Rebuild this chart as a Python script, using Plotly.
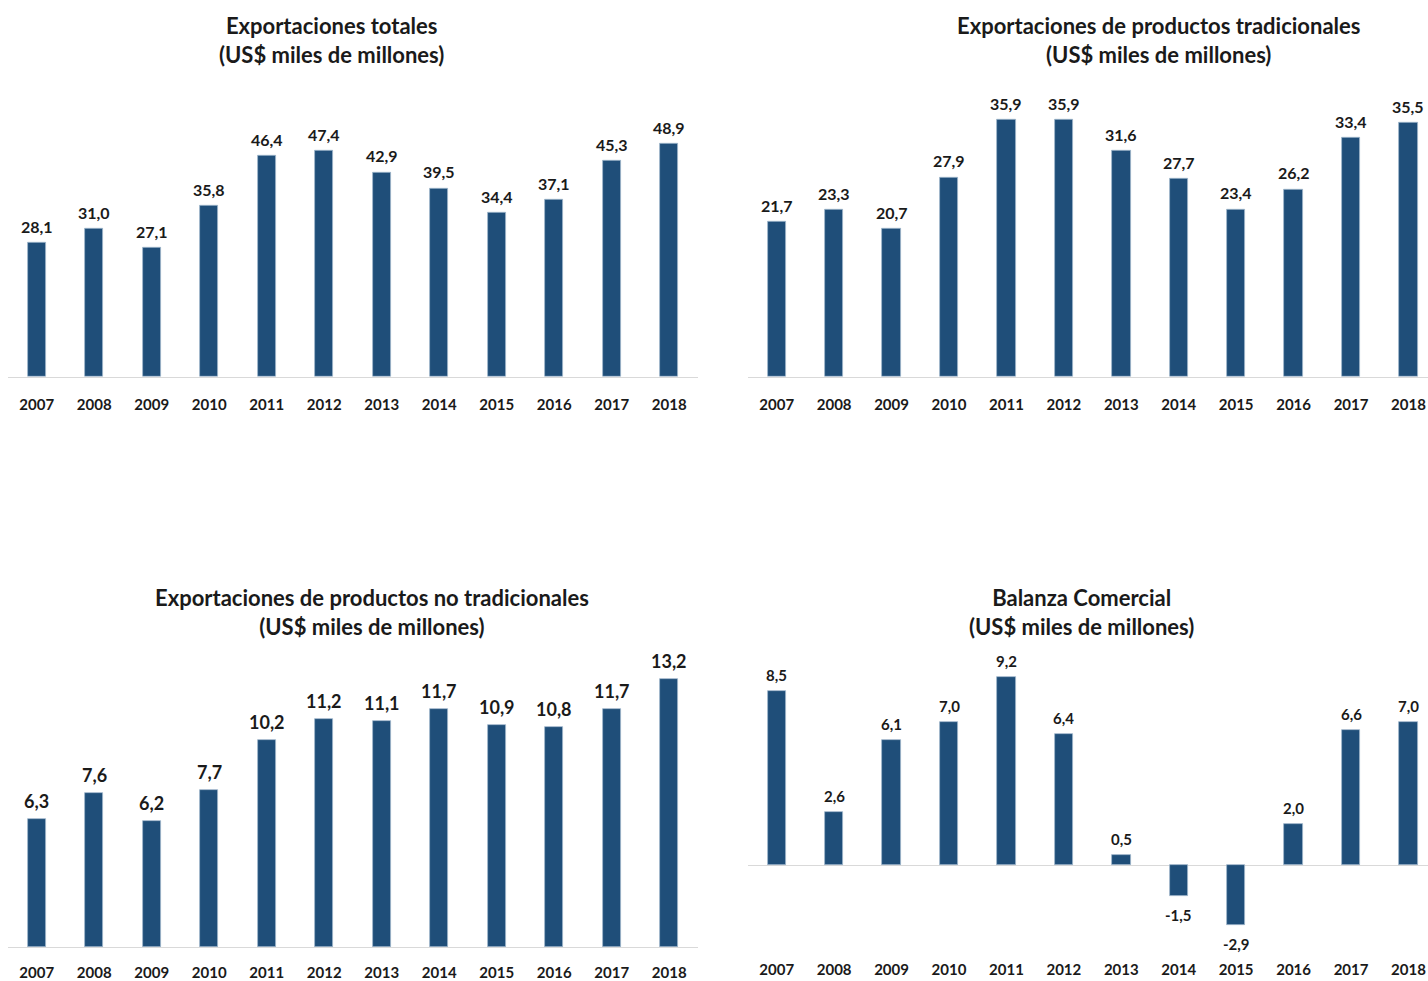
import plotly.graph_objects as go

years = ["2007", "2008", "2009", "2010", "2011", "2012", "2013", "2014", "2015", "2016", "2017", "2018"]
totales = [28.1, 31.0, 27.1, 35.8, 46.4, 47.4, 42.9, 39.5, 34.4, 37.1, 45.3, 48.9]
tradicionales = [21.7, 23.3, 20.7, 27.9, 35.9, 35.9, 31.6, 27.7, 23.4, 26.2, 33.4, 35.5]
no_tradicionales = [6.3, 7.6, 6.2, 7.7, 10.2, 11.2, 11.1, 11.7, 10.9, 10.8, 11.7, 13.2]
balanza = [8.5, 2.6, 6.1, 7.0, 9.2, 6.4, 0.5, -1.5, -2.9, 2.0, 6.6, 7.0]

titles = [
    "Exportaciones totales<br>(US$ miles de millones)",
    "Exportaciones de productos tradicionales<br>(US$ miles de millones)",
    "Exportaciones de productos no tradicionales<br>(US$ miles de millones)",
    "Balanza Comercial<br>(US$ miles de millones)",
]

FONT = "Lato"
BAR = "#1F4E79"
W, H = 1428, 981

fig = go.Figure()

panels = [
    dict(vals=totales, xa="x", ya="y", lab=16),
    dict(vals=tradicionales, xa="x2", ya="y2", lab=16),
    dict(vals=no_tradicionales, xa="x3", ya="y3", lab=18),
    dict(vals=balanza, xa="x4", ya="y4", lab=15),
]

annotations = []
for p in panels:
    fig.add_trace(go.Bar(
        x=years, y=p["vals"], xaxis=p["xa"], yaxis=p["ya"],
        width=0.32, marker=dict(color=BAR, line=dict(color="#9fb6cc", width=0.8)),
        showlegend=False, hoverinfo="x+y",
    ))
    for i, v in enumerate(p["vals"]):
        annotations.append(dict(
            x=i, y=v, xref=p["xa"], yref=p["ya"],
            text=f"{v:.1f}".replace(".", ","),
            showarrow=False,
            yanchor="bottom" if v >= 0 else "top",
            yshift=5 if v >= 0 else -8,
            font=dict(family=FONT, size=p["lab"], color="#1a1a1a", weight="bold"),
        ))

title_pos = [(331, 40), (1158, 40), (372, 614), (1081, 614)]
for t, (px, py) in zip(titles, title_pos):
    annotations.append(dict(
        x=px / W, y=(H - py) / H, xref="paper", yref="paper",
        text=t, showarrow=False, xanchor="center", yanchor="middle",
        font=dict(family=FONT, size=22, color="#1a1a1a", weight="bold"),
    ))

xl = [8 / W, 698 / W]
xr = [748 / W, 1.0]
ytop = [(H - 378) / H, (H - 91) / H]
ybot = [(H - 950) / H, (H - 644) / H]

tickfont = dict(family=FONT, size=15, color="#1a1a1a", weight="bold")

def xaxis(dom, rng, anchor, line=True, standoff=14):
    return dict(domain=dom, range=rng, anchor=anchor, type="category",
                showline=line, linecolor="#d9d9d9", linewidth=1,
                showgrid=False, ticks="", tickfont=tickfont, ticklabelstandoff=standoff,
                zeroline=False)

def yaxis(dom, rng, anchor, zero=False):
    return dict(domain=dom, range=rng, anchor=anchor, visible=True,
                showticklabels=False, showgrid=False, showline=False, ticks="",
                zeroline=zero, zerolinecolor="#d9d9d9", zerolinewidth=1)

fig.update_layout(
    width=W, height=H,
    margin=dict(l=0, r=0, t=0, b=0),
    paper_bgcolor="white", plot_bgcolor="white",
    font=dict(family=FONT),
    bargap=0,
    xaxis=xaxis(xl, [-0.5, 11.5], "y"),
    yaxis=yaxis(ytop, [0, 60], "x"),
    xaxis2=xaxis(xr, [-0.5, 11.34], "y2"),
    yaxis2=yaxis(ytop, [0, 40], "x2"),
    xaxis3=xaxis(xl, [-0.5, 11.5], "y3", standoff=12),
    yaxis3=yaxis(ybot, [0, 15], "x3"),
    xaxis4=xaxis(xr, [-0.5, 11.34], "y4", line=False, standoff=12),
    yaxis4=yaxis(ybot, [-4, 10.89], "x4", zero=True),
    annotations=annotations,
)

fig.write_html("out.html", config={"displayModeBar": False},
               post_script="document.body.style.margin='0';document.body.style.overflow='hidden';")
